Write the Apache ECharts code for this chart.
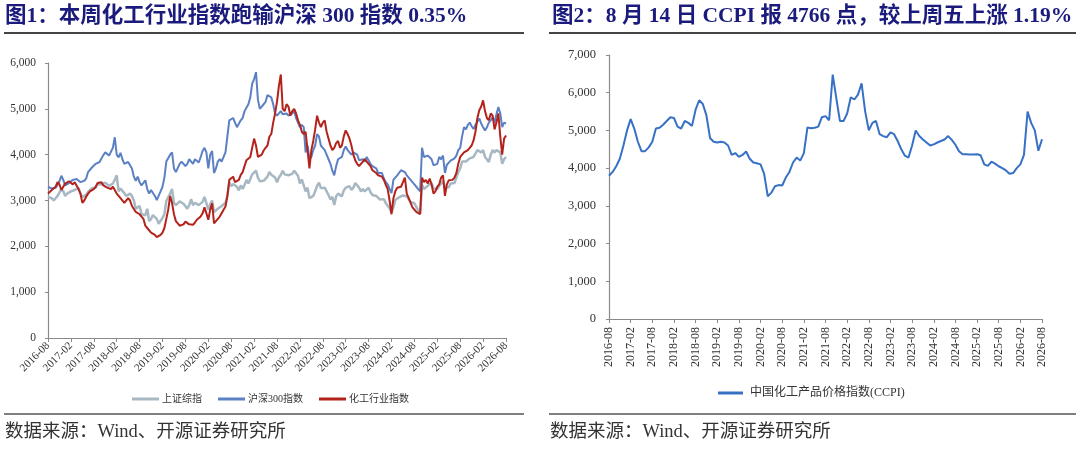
<!DOCTYPE html>
<html>
<head>
<meta charset="utf-8">
<title>化工行业指数与CCPI</title>
<script src="https://cdn.jsdelivr.net/npm/echarts@6.0.0/dist/echarts.min.js"></script>
<style>
html, body { margin: 0; padding: 0; background: #fff; }
#chart { width: 1080px; height: 449px; }
</style>
</head>
<body>
<div id="chart"></div>
<script>
// semi-monthly points 2016-08-01 ... 2026-08-01 (left chart)
var halfMonths = [];
(function () {
    var y = 2016, m = 8;
    while (halfMonths.length < 241) {
        var mm = (m < 10 ? '0' : '') + m;
        halfMonths.push(y + '-' + mm + '-01');
        if (halfMonths.length < 241) halfMonths.push(y + '-' + mm + '-15');
        m++;
        if (m > 12) { m = 1; y++; }
    }
})();

// monthly points 2016-08 ... 2026-08 (right chart)
var months = [];
(function () {
    var y = 2016, m = 8;
    while (months.length < 121) {
        months.push(y + '-' + (m < 10 ? '0' : '') + m);
        m++;
        if (m > 12) { m = 1; y++; }
    }
})();

// 上证综指
var shIndex = [
    3080, 3100, 3050, 3000, 3050, 3100, 3120, 3250, 3200, 3100, 3150, 3160, 3200, 3240, 3230, 3220, 3270, 3150, 3080, 3100, 3120, 3190, 3210, 3270,
    3250, 3280, 3360, 3360, 3350, 3380, 3390, 3400, 3320, 3290, 3370, 3450, 3550, 3200, 3260, 3300, 3160, 3100, 3100, 3150, 3100, 3000, 2820, 2850,
    2880, 2700, 2720, 2680, 2820, 2550, 2600, 2680, 2650, 2600, 2490, 2560, 2620, 2700, 2990, 3020, 3150, 3250, 2950, 2900, 2900, 2980, 3000, 2930,
    2900, 2820, 2900, 3030, 2900, 2950, 2960, 2900, 2880, 2970, 3080, 3100, 2800, 2920, 3000, 2750, 2750, 2820, 2860, 2880, 2920, 2950, 3100, 3400,
    3310, 3360, 3400, 3300, 3220, 3330, 3250, 3340, 3450, 3370, 3470, 3570, 3530, 3650, 3500, 3420, 3450, 3430, 3440, 3520, 3620, 3560, 3590, 3500,
    3400, 3500, 3560, 3650, 3570, 3580, 3550, 3530, 3580, 3650, 3620, 3540, 3370, 3460, 3460, 3200, 3280, 3050, 3050, 3100, 3200, 3320, 3390, 3270,
    3260, 3280, 3200, 3120, 3020, 3080, 2900, 3090, 3150, 3170, 3090, 3220, 3280, 3280, 3310, 3230, 3280, 3380, 3330, 3280, 3200, 3250, 3200, 3240,
    3280, 3180, 3120, 3120, 3100, 3070, 3020, 3050, 3030, 2940, 2960, 2830, 2730, 2850, 3010, 3040, 3070, 3060, 3110, 3150, 3090, 3030, 2970, 2970,
    2940, 2860, 2840, 2720, 3340, 3250, 3280, 3320, 3360, 3380, 3260, 3230, 3250, 3320, 3320, 3420, 3280, 3270, 3290, 3370, 3360, 3380, 3500, 3620,
    3700, 3850, 3880, 3850, 3880, 3920, 3900, 3950, 3980, 4100, 4080, 4050, 4100, 3950, 3900, 3840, 4000, 4100, 4050, 4100, 4130, 4050, 3800, 3900,
    3950
];

// 沪深300指数
var hs300 = [
    3300, 3320, 3260, 3250, 3280, 3340, 3420, 3540, 3450, 3330, 3310, 3380, 3400, 3450, 3440, 3470, 3480, 3400, 3380, 3430, 3480, 3620, 3660, 3720,
    3730, 3800, 3830, 3840, 3860, 3990, 4050, 4060, 3980, 4020, 4150, 4380, 4000, 3940, 4040, 3900, 3800, 3760, 3840, 3800, 3700, 3520, 3430, 3520,
    3400, 3330, 3300, 3440, 3250, 3150, 3230, 3200, 3100, 3010, 3040, 3200, 3300, 3500, 3850, 3870, 4000, 4050, 3700, 3620, 3650, 3800, 3850, 3800,
    3750, 3800, 3900, 3850, 3800, 3900, 3920, 3830, 3950, 4080, 4150, 4050, 3700, 4000, 4080, 3600, 3700, 3850, 3900, 3850, 3950, 4050, 4400, 4750,
    4750, 4800, 4700, 4600, 4600, 4750, 4800, 4950, 4950, 5100, 5250, 5550, 5650, 5800, 5200, 5000, 5050, 5100, 5150, 5300, 5330, 5250, 5100, 4900,
    4850, 4900, 4950, 4880, 4850, 4900, 4850, 4830, 4900, 4950, 4800, 4700, 4600, 4650, 4600, 4050, 4200, 3900, 3950, 4100, 4200, 4450, 4400, 4200,
    4150, 4100, 4000, 3900, 3800, 3650, 3550, 3750, 3900, 3880, 3950, 4100, 4180, 4100, 4050, 4000, 4050, 4020, 4000, 3880, 3850, 3900, 3850, 3950,
    3950, 3800, 3750, 3720, 3700, 3600, 3560, 3600, 3480, 3400, 3350, 3250, 3160, 3450, 3500, 3550, 3580, 3660, 3650, 3620, 3550, 3500, 3450, 3400,
    3350, 3300, 3250, 3200, 4150, 3950, 3950, 3980, 3950, 3900, 3770, 3800, 3800, 3950, 3900, 3980, 3600, 3780, 3820, 3870, 3880, 3920, 3980, 4100,
    4150, 4400, 4600, 4550, 4650, 4700, 4620, 4560, 4650, 4720, 4790, 4680, 4600, 4530, 4600, 4700, 4750, 4820, 4700, 4880, 5040, 4900, 4600, 4700,
    4680
];

// 化工行业指数
var chemIndex = [
    3150, 3170, 3230, 3200, 3300, 3400, 3350, 3230, 3300, 3370, 3380, 3420, 3400, 3350, 3400, 3380, 3250, 3150, 2950, 3000, 3080, 3150, 3200, 3230,
    3250, 3300, 3380, 3350, 3400, 3330, 3300, 3280, 3320, 3250, 3300, 3230, 3150, 3100, 3050, 3080, 2950, 2980, 3050, 3000, 2880, 2850, 2750, 2720,
    2700, 2650, 2600, 2450, 2400, 2380, 2300, 2280, 2250, 2200, 2180, 2250, 2300, 2400, 2600, 2800, 3100, 2950, 2700, 2550, 2500, 2450, 2430, 2480,
    2540, 2500, 2480, 2450, 2470, 2520, 2580, 2620, 2650, 2720, 2850, 2720, 2580, 2800, 2940, 2500, 2550, 2560, 2650, 2720, 2800, 2870, 3100, 3450,
    3450, 3520, 3400, 3370, 3450, 3560, 3620, 3750, 3880, 3900, 3950, 4150, 4350, 4200, 3950, 3920, 4000, 4090, 4150, 4200, 4390, 4450, 4700, 4900,
    5150, 5500, 5750, 5000, 4950, 5100, 5050, 4850, 4950, 5000, 4900, 4750, 4650, 4500, 4450, 4500, 4100, 3700, 4100, 4300, 4550, 4850, 4700, 4600,
    4700, 4750, 4500, 4350, 4200, 4100, 4150, 4250, 4300, 4150, 4200, 4400, 4530, 4450, 4350, 4200, 4000, 3880, 3800, 3750, 3800, 3850, 3900, 3870,
    3800, 3750, 3660, 3620, 3600, 3550, 3570, 3520, 3450, 3340, 3250, 3000, 2700, 3050, 3200, 3280, 3250, 3300, 3400, 3500, 3150, 3050, 2950, 2850,
    2830, 2750, 2720, 2700, 3500, 3400, 3450, 3370, 3480, 3350, 3150, 3200, 3300, 3350, 3500, 3550, 3100, 3350, 3440, 3400, 3450, 3500, 3600, 3800,
    3950, 3980, 4050, 4080, 4100, 4150, 4200, 4310, 4500, 4800, 4970, 5050, 5185, 4950, 4800, 4750, 4900, 4850, 4550, 4700, 4900, 4400, 4000, 4350,
    4420
];

// 中国化工产品价格指数(CCPI), monthly
var ccpi = [
    3800, 3900, 4050, 4250, 4600, 5000, 5300, 5050, 4700, 4450, 4450, 4550,
    4700, 5050, 5070, 5150, 5250, 5350, 5330, 5100, 5050, 5250, 5200, 5120,
    5550, 5800, 5700, 5400, 4800, 4700, 4680, 4700, 4680, 4600, 4350, 4400,
    4300, 4350, 4440, 4250, 4150, 4130, 4100, 3850, 3250, 3350, 3520, 3550,
    3540, 3750, 3900, 4150, 4280, 4200, 4400, 5080, 5060, 5070, 5100, 5350,
    5380, 5270, 6480, 5850, 5250, 5250, 5450, 5880, 5820, 5950, 6250, 5500,
    5000, 5200, 5250, 4900, 4850, 4820, 4950, 4900, 4720, 4500, 4330, 4280,
    4600, 5000, 4850, 4760, 4680, 4600, 4630, 4680, 4720, 4760, 4850, 4750,
    4620, 4450, 4370, 4370, 4360, 4360, 4370, 4340, 4100, 4060, 4170, 4120,
    4050, 4000, 3940, 3850, 3870, 4000, 4100, 4350, 5500, 5200, 5000, 4460,
    4766
];

var leftYTicks = { min: 0, max: 6000, interval: 1000 };
var rightYTicks = { min: 0, max: 7000, interval: 1000 };

var FONT = "'Liberation Serif', 'Noto Sans CJK SC', serif";
var AXIS_COLOR = '#8a8a8a';
var TEXT_COLOR = '#333';

function halfYearMark(index, value) {
    return /-(02|08)-01$/.test(value);
}
function thousands(v) {
    return Number(v).toLocaleString('en-US');
}

var chartDom = document.getElementById('chart');
var myChart = echarts.init(chartDom);

var option = {
    animation: false,
    backgroundColor: '#fff',
    title: [
        {
            text: '图1：本周化工行业指数跑输沪深 300 指数 0.35%',
            left: 5, top: 6, padding: 0,
            textStyle: { fontFamily: FONT, fontWeight: 'bold', fontSize: 21.5, color: '#1b1b7d' }
        },
        {
            text: '图2：8 月 14 日 CCPI 报 4766 点，较上周五上涨 1.19%',
            left: 552, top: 6, padding: 0,
            textStyle: { fontFamily: FONT, fontWeight: 'bold', fontSize: 21.5, color: '#1b1b7d' }
        },
        {
            text: '数据来源：Wind、开源证券研究所',
            left: 5, top: 423, padding: 0,
            textStyle: { fontFamily: FONT, fontWeight: 'normal', fontSize: 18.5, color: TEXT_COLOR }
        },
        {
            text: '数据来源：Wind、开源证券研究所',
            left: 550, top: 423, padding: 0,
            textStyle: { fontFamily: FONT, fontWeight: 'normal', fontSize: 18.5, color: TEXT_COLOR }
        }
    ],
    graphic: [
        { type: 'line', shape: { x1: 4, y1: 33, x2: 524, y2: 33 }, style: { stroke: '#444', lineWidth: 2 } },
        { type: 'line', shape: { x1: 549, y1: 33, x2: 1076, y2: 33 }, style: { stroke: '#444', lineWidth: 2 } },
        { type: 'line', shape: { x1: 4, y1: 414, x2: 524, y2: 414 }, style: { stroke: '#555', lineWidth: 1.5 } },
        { type: 'line', shape: { x1: 549, y1: 414, x2: 1076, y2: 414 }, style: { stroke: '#555', lineWidth: 1.5 } }
    ],
    legend: [
        {
            data: ['上证综指', '沪深300指数', '化工行业指数'],
            left: 127, top: 389,
            icon: 'rect', itemWidth: 27, itemHeight: 3, itemGap: 16,
            selectedMode: false,
            textStyle: { fontFamily: FONT, fontSize: 10, color: TEXT_COLOR, padding: [0, 0, 0, -2] }
        },
        {
            data: ['中国化工产品价格指数(CCPI)'],
            left: 713, top: 382,
            icon: 'rect', itemWidth: 25, itemHeight: 3,
            selectedMode: false,
            textStyle: { fontFamily: FONT, fontSize: 12, color: TEXT_COLOR, padding: [0, 0, 0, 2] }
        }
    ],
    grid: [
        { left: 48, right: 574, top: 63, bottom: 111 },
        { left: 609, right: 38, top: 55, bottom: 130 }
    ],
    xAxis: [
        {
            type: 'category',
            gridIndex: 0,
            data: halfMonths,
            boundaryGap: false,
            axisLine: { lineStyle: { color: AXIS_COLOR, width: 1.2 } },
            axisTick: { show: true, interval: halfYearMark, length: 4, lineStyle: { color: AXIS_COLOR } },
            axisLabel: {
                interval: halfYearMark,
                rotate: 45,
                margin: 6,
                fontFamily: FONT,
                fontSize: 11,
                color: TEXT_COLOR,
                formatter: function (v) { return v.slice(0, 7); }
            },
            splitLine: { show: false }
        },
        {
            type: 'category',
            gridIndex: 1,
            data: months,
            boundaryGap: false,
            axisLine: { lineStyle: { color: AXIS_COLOR, width: 1.2 } },
            axisTick: { show: true, interval: 5, length: 4, lineStyle: { color: AXIS_COLOR } },
            axisLabel: {
                interval: 5,
                rotate: 90,
                margin: 8,
                fontFamily: FONT,
                fontSize: 12,
                color: TEXT_COLOR
            },
            splitLine: { show: false }
        }
    ],
    yAxis: [
        {
            type: 'value',
            gridIndex: 0,
            min: leftYTicks.min, max: leftYTicks.max, interval: leftYTicks.interval,
            axisLine: { show: true, lineStyle: { color: AXIS_COLOR, width: 1.2 } },
            axisTick: { show: true, length: 3, lineStyle: { color: AXIS_COLOR } },
            axisLabel: { margin: 12, fontFamily: FONT, fontSize: 11.5, color: TEXT_COLOR, formatter: thousands },
            splitLine: { show: false }
        },
        {
            type: 'value',
            gridIndex: 1,
            min: rightYTicks.min, max: rightYTicks.max, interval: rightYTicks.interval,
            axisLine: { show: true, lineStyle: { color: AXIS_COLOR, width: 1.2 } },
            axisTick: { show: true, length: 3, lineStyle: { color: AXIS_COLOR } },
            axisLabel: { margin: 13, fontFamily: FONT, fontSize: 12.5, color: TEXT_COLOR, formatter: thousands },
            splitLine: { show: false }
        }
    ],
    series: [
        {
            name: '上证综指', type: 'line', xAxisIndex: 0, yAxisIndex: 0,
            data: shIndex, symbol: 'none',
            lineStyle: { color: '#a8b8c3', width: 2.5 },
            itemStyle: { color: '#a8b8c3' }
        },
        {
            name: '沪深300指数', type: 'line', xAxisIndex: 0, yAxisIndex: 0,
            data: hs300, symbol: 'none',
            lineStyle: { color: '#5b80c4', width: 2 },
            itemStyle: { color: '#5b80c4' }
        },
        {
            name: '化工行业指数', type: 'line', xAxisIndex: 0, yAxisIndex: 0,
            data: chemIndex, symbol: 'none',
            lineStyle: { color: '#b3231b', width: 2 },
            itemStyle: { color: '#b3231b' }
        },
        {
            name: '中国化工产品价格指数(CCPI)', type: 'line', xAxisIndex: 1, yAxisIndex: 1,
            data: ccpi, symbol: 'none',
            lineStyle: { color: '#3671c6', width: 2 },
            itemStyle: { color: '#3671c6' }
        }
    ]
};

if (option && typeof option === 'object') {
    myChart.setOption(option);
}
</script>
</body>
</html>
